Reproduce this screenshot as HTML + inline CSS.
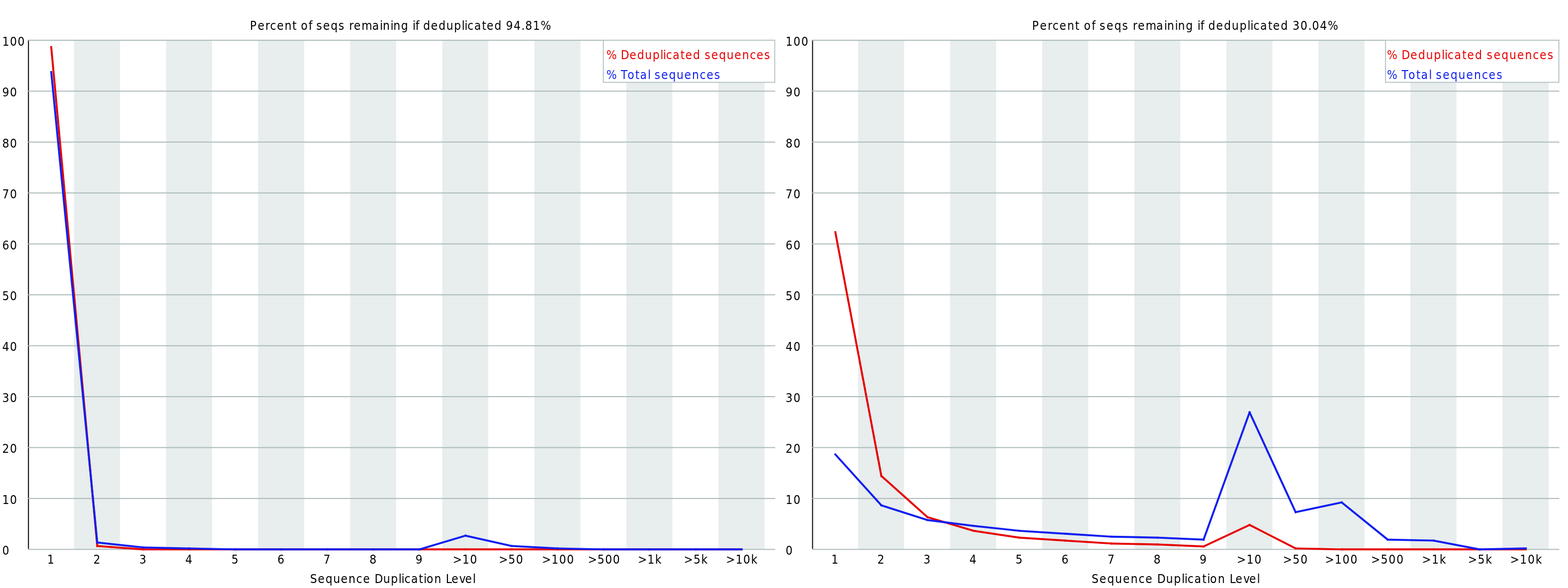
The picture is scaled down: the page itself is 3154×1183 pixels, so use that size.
<!DOCTYPE html>
<html><head><meta charset="utf-8"><title>Sequence Duplication Levels</title>
<style>
html,body{margin:0;padding:0;background:#fff;}
body{width:3154px;height:1183px;overflow:hidden;}
svg{display:block;}
.t{font-family:'DejaVu Sans Condensed', 'DejaVu Sans', 'Liberation Sans', sans-serif;font-size:12.4px;fill:#000;}
</style></head><body>
<svg width="3154" height="1183" viewBox="0 0 3154 1183">
<rect width="3154" height="1183" fill="#fff"/>
<g transform="translate(1.1,1.15) scale(1.97)">
<rect x="75" y="40" width="47" height="520" fill="#e8eded"/>
<rect x="169" y="40" width="47" height="520" fill="#e8eded"/>
<rect x="263" y="40" width="47" height="520" fill="#e8eded"/>
<rect x="357" y="40" width="47" height="520" fill="#e8eded"/>
<rect x="451" y="40" width="47" height="520" fill="#e8eded"/>
<rect x="545" y="40" width="47" height="520" fill="#e8eded"/>
<rect x="639" y="40" width="47" height="520" fill="#e8eded"/>
<rect x="733" y="40" width="47" height="520" fill="#e8eded"/>
<rect x="28" y="40" width="1" height="520" fill="#000"/>
<rect x="28" y="560" width="763" height="1" fill="#aab9b9"/>
<rect x="28" y="508" width="763" height="1" fill="#aab9b9"/>
<rect x="28" y="456" width="763" height="1" fill="#aab9b9"/>
<rect x="28" y="404" width="763" height="1" fill="#aab9b9"/>
<rect x="28" y="352" width="763" height="1" fill="#aab9b9"/>
<rect x="28" y="300" width="763" height="1" fill="#aab9b9"/>
<rect x="28" y="248" width="763" height="1" fill="#aab9b9"/>
<rect x="28" y="196" width="763" height="1" fill="#aab9b9"/>
<rect x="28" y="144" width="763" height="1" fill="#aab9b9"/>
<rect x="28" y="92" width="763" height="1" fill="#aab9b9"/>
<rect x="28" y="40" width="763" height="1" fill="#aab9b9"/>
<text x="1.70" y="566" class="t">0</text>
<text x="1.70 9.56" y="514" class="t">10</text>
<text x="1.70 9.56" y="462" class="t">20</text>
<text x="1.70 9.56" y="410" class="t">30</text>
<text x="1.70 9.56" y="358" class="t">40</text>
<text x="1.70 9.56" y="306" class="t">50</text>
<text x="1.70 9.56" y="254" class="t">60</text>
<text x="1.70 9.56" y="202" class="t">70</text>
<text x="1.70 9.56" y="150" class="t">80</text>
<text x="1.70 9.56" y="98" class="t">90</text>
<text x="1.70 9.56 17.43" y="46" class="t">100</text>
<text x="254.62 262.48 270.34 275.26 282.14 290.00 297.87 302.78 306.72 314.58 318.51 322.44 329.32 337.19 345.05 351.93 355.87 360.78 368.64 379.46 387.32 390.27 398.13 401.08 408.95 416.81 420.74 423.69 427.62 431.56 439.42 447.28 455.15 463.01 470.88 473.83 476.77 483.66 491.52 496.43 504.30 512.16 516.10 523.96 531.82 535.75 543.62 551.48" y="30" class="t">Percent of seqs remaining if deduplicated 94.81%</text>
<text x="47.70" y="575" class="t">1</text>
<text x="94.70" y="575" class="t">2</text>
<text x="141.70" y="575" class="t">3</text>
<text x="188.70" y="575" class="t">4</text>
<text x="235.70" y="575" class="t">5</text>
<text x="282.70" y="575" class="t">6</text>
<text x="329.70" y="575" class="t">7</text>
<text x="376.70" y="575" class="t">8</text>
<text x="423.70" y="575" class="t">9</text>
<text x="461.70 471.53 479.39" y="575" class="t">&gt;10</text>
<text x="508.70 518.53 526.39" y="575" class="t">&gt;50</text>
<text x="552.70 562.53 570.39 578.26" y="575" class="t">&gt;100</text>
<text x="599.70 609.53 617.39 625.26" y="575" class="t">&gt;500</text>
<text x="650.70 660.53 668.39" y="575" class="t">&gt;1k</text>
<text x="697.70 707.53 715.39" y="575" class="t">&gt;5k</text>
<text x="740.70 750.53 758.39 766.26" y="575" class="t">&gt;10k</text>
<text x="316.02 323.88 331.75 339.61 347.47 355.34 363.20 370.08 377.95 381.88 390.73 398.59 406.45 409.40 412.35 419.23 427.10 432.01 434.96 442.82 450.69 454.62 460.52 468.38 474.28 482.14" y="595" class="t">Sequence Duplication Level</text>
<line x1="51.75" y1="47.5" x2="98.75" y2="557.0" stroke="#e60000" stroke-width="2" stroke-linecap="square"/>
<line x1="98.75" y1="557.0" x2="145.75" y2="560.5" stroke="#e60000" stroke-width="2" stroke-linecap="square"/>
<line x1="145.75" y1="560.5" x2="192.75" y2="560.5" stroke="#e60000" stroke-width="2" stroke-linecap="square"/>
<line x1="192.75" y1="560.5" x2="239.75" y2="560.5" stroke="#e60000" stroke-width="2" stroke-linecap="square"/>
<line x1="239.75" y1="560.5" x2="286.75" y2="560.5" stroke="#e60000" stroke-width="2" stroke-linecap="square"/>
<line x1="286.75" y1="560.5" x2="333.75" y2="560.5" stroke="#e60000" stroke-width="2" stroke-linecap="square"/>
<line x1="333.75" y1="560.5" x2="380.75" y2="560.5" stroke="#e60000" stroke-width="2" stroke-linecap="square"/>
<line x1="380.75" y1="560.5" x2="427.75" y2="560.5" stroke="#e60000" stroke-width="2" stroke-linecap="square"/>
<line x1="427.75" y1="560.5" x2="474.75" y2="560.5" stroke="#e60000" stroke-width="2" stroke-linecap="square"/>
<line x1="474.75" y1="560.5" x2="521.75" y2="560.5" stroke="#e60000" stroke-width="2" stroke-linecap="square"/>
<line x1="521.75" y1="560.5" x2="568.75" y2="560.5" stroke="#e60000" stroke-width="2" stroke-linecap="square"/>
<line x1="568.75" y1="560.5" x2="615.75" y2="560.5" stroke="#e60000" stroke-width="2" stroke-linecap="square"/>
<line x1="615.75" y1="560.5" x2="662.75" y2="560.5" stroke="#e60000" stroke-width="2" stroke-linecap="square"/>
<line x1="662.75" y1="560.5" x2="709.75" y2="560.5" stroke="#e60000" stroke-width="2" stroke-linecap="square"/>
<line x1="709.75" y1="560.5" x2="756.75" y2="560.5" stroke="#e60000" stroke-width="2" stroke-linecap="square"/>
<line x1="51.75" y1="73.0" x2="98.75" y2="553.5" stroke="#0f1ef0" stroke-width="2" stroke-linecap="square"/>
<line x1="98.75" y1="553.5" x2="145.75" y2="558.5" stroke="#0f1ef0" stroke-width="2" stroke-linecap="square"/>
<line x1="145.75" y1="558.5" x2="192.75" y2="559.5" stroke="#0f1ef0" stroke-width="2" stroke-linecap="square"/>
<line x1="192.75" y1="559.5" x2="239.75" y2="560.5" stroke="#0f1ef0" stroke-width="2" stroke-linecap="square"/>
<line x1="239.75" y1="560.5" x2="286.75" y2="560.5" stroke="#0f1ef0" stroke-width="2" stroke-linecap="square"/>
<line x1="286.75" y1="560.5" x2="333.75" y2="560.5" stroke="#0f1ef0" stroke-width="2" stroke-linecap="square"/>
<line x1="333.75" y1="560.5" x2="380.75" y2="560.5" stroke="#0f1ef0" stroke-width="2" stroke-linecap="square"/>
<line x1="380.75" y1="560.5" x2="427.75" y2="560.5" stroke="#0f1ef0" stroke-width="2" stroke-linecap="square"/>
<line x1="427.75" y1="560.5" x2="474.75" y2="546.5" stroke="#0f1ef0" stroke-width="2" stroke-linecap="square"/>
<line x1="474.75" y1="546.5" x2="521.75" y2="557.0" stroke="#0f1ef0" stroke-width="2" stroke-linecap="square"/>
<line x1="521.75" y1="557.0" x2="568.75" y2="559.5" stroke="#0f1ef0" stroke-width="2" stroke-linecap="square"/>
<line x1="568.75" y1="559.5" x2="615.75" y2="560.5" stroke="#0f1ef0" stroke-width="2" stroke-linecap="square"/>
<line x1="615.75" y1="560.5" x2="662.75" y2="560.5" stroke="#0f1ef0" stroke-width="2" stroke-linecap="square"/>
<line x1="662.75" y1="560.5" x2="709.75" y2="560.5" stroke="#0f1ef0" stroke-width="2" stroke-linecap="square"/>
<line x1="709.75" y1="560.5" x2="756.75" y2="560.5" stroke="#0f1ef0" stroke-width="2" stroke-linecap="square"/>
<rect x="615.5" y="40.5" width="175" height="43" fill="#fff" stroke="#b4c3c3" stroke-width="1"/>
<text x="618.60 629.41 633.35 642.19 650.06 657.92 665.78 673.65 676.60 679.55 686.43 694.29 699.21 707.07 714.93 718.87 725.75 733.61 741.48 749.34 757.20 765.07 771.95 779.81" y="60" class="t" style="fill:#e60000;color:#e60000">% Deduplicated sequences</text>
<text x="618.60 629.41 633.35 640.23 648.09 653.00 660.87 663.82 667.75 674.63 682.50 690.36 698.22 706.09 713.95 720.83 728.70" y="80" class="t" style="fill:#0f1ef0;color:#0f1ef0">% Total sequences</text>
</g>
<g transform="translate(1578.3,1.15) scale(1.97)">
<rect x="75" y="40" width="47" height="520" fill="#e8eded"/>
<rect x="169" y="40" width="47" height="520" fill="#e8eded"/>
<rect x="263" y="40" width="47" height="520" fill="#e8eded"/>
<rect x="357" y="40" width="47" height="520" fill="#e8eded"/>
<rect x="451" y="40" width="47" height="520" fill="#e8eded"/>
<rect x="545" y="40" width="47" height="520" fill="#e8eded"/>
<rect x="639" y="40" width="47" height="520" fill="#e8eded"/>
<rect x="733" y="40" width="47" height="520" fill="#e8eded"/>
<rect x="28" y="40" width="1" height="520" fill="#000"/>
<rect x="28" y="560" width="763" height="1" fill="#aab9b9"/>
<rect x="28" y="508" width="763" height="1" fill="#aab9b9"/>
<rect x="28" y="456" width="763" height="1" fill="#aab9b9"/>
<rect x="28" y="404" width="763" height="1" fill="#aab9b9"/>
<rect x="28" y="352" width="763" height="1" fill="#aab9b9"/>
<rect x="28" y="300" width="763" height="1" fill="#aab9b9"/>
<rect x="28" y="248" width="763" height="1" fill="#aab9b9"/>
<rect x="28" y="196" width="763" height="1" fill="#aab9b9"/>
<rect x="28" y="144" width="763" height="1" fill="#aab9b9"/>
<rect x="28" y="92" width="763" height="1" fill="#aab9b9"/>
<rect x="28" y="40" width="763" height="1" fill="#aab9b9"/>
<text x="1.00" y="566" class="t">0</text>
<text x="1.00 9.00" y="514" class="t">10</text>
<text x="1.00 9.00" y="462" class="t">20</text>
<text x="1.00 9.00" y="410" class="t">30</text>
<text x="1.00 9.00" y="358" class="t">40</text>
<text x="1.00 9.00" y="306" class="t">50</text>
<text x="1.00 9.00" y="254" class="t">60</text>
<text x="1.00 9.00" y="202" class="t">70</text>
<text x="1.00 9.00" y="150" class="t">80</text>
<text x="1.00 9.00" y="98" class="t">90</text>
<text x="1.00 9.00 17.00" y="46" class="t">100</text>
<text x="252.60 260.60 268.60 273.60 280.60 288.60 296.60 301.60 305.60 313.60 317.60 321.60 328.60 336.60 344.60 351.60 355.60 360.60 368.60 379.60 387.60 390.60 398.60 401.60 409.60 417.60 421.60 424.60 428.60 432.60 440.60 448.60 456.60 464.60 472.60 475.60 478.60 485.60 493.60 498.60 506.60 514.60 518.60 526.60 534.60 538.60 546.60 554.60" y="30" class="t">Percent of seqs remaining if deduplicated 30.04%</text>
<text x="47.70" y="575" class="t">1</text>
<text x="94.70" y="575" class="t">2</text>
<text x="141.70" y="575" class="t">3</text>
<text x="188.70" y="575" class="t">4</text>
<text x="235.70" y="575" class="t">5</text>
<text x="282.70" y="575" class="t">6</text>
<text x="329.70" y="575" class="t">7</text>
<text x="376.70" y="575" class="t">8</text>
<text x="423.70" y="575" class="t">9</text>
<text x="461.70 471.70 479.70" y="575" class="t">&gt;10</text>
<text x="508.70 518.70 526.70" y="575" class="t">&gt;50</text>
<text x="551.70 561.70 569.70 577.70" y="575" class="t">&gt;100</text>
<text x="598.70 608.70 616.70 624.70" y="575" class="t">&gt;500</text>
<text x="650.70 660.70 668.70" y="575" class="t">&gt;1k</text>
<text x="697.70 707.70 715.70" y="575" class="t">&gt;5k</text>
<text x="740.70 750.70 758.70 766.70" y="575" class="t">&gt;10k</text>
<text x="313.40 321.40 329.40 337.40 345.40 353.40 361.40 368.40 376.40 380.40 389.40 397.40 405.40 408.40 411.40 418.40 426.40 431.40 434.40 442.40 450.40 454.40 460.40 468.40 474.40 482.40" y="595" class="t">Sequence Duplication Level</text>
<line x1="51.75" y1="236.5" x2="98.75" y2="485.5" stroke="#e60000" stroke-width="2" stroke-linecap="square"/>
<line x1="98.75" y1="485.5" x2="145.75" y2="527.5" stroke="#e60000" stroke-width="2" stroke-linecap="square"/>
<line x1="145.75" y1="527.5" x2="192.75" y2="541.5" stroke="#e60000" stroke-width="2" stroke-linecap="square"/>
<line x1="192.75" y1="541.5" x2="239.75" y2="548.5" stroke="#e60000" stroke-width="2" stroke-linecap="square"/>
<line x1="239.75" y1="548.5" x2="286.75" y2="551.5" stroke="#e60000" stroke-width="2" stroke-linecap="square"/>
<line x1="286.75" y1="551.5" x2="333.75" y2="554.5" stroke="#e60000" stroke-width="2" stroke-linecap="square"/>
<line x1="333.75" y1="554.5" x2="380.75" y2="555.5" stroke="#e60000" stroke-width="2" stroke-linecap="square"/>
<line x1="380.75" y1="555.5" x2="427.75" y2="557.5" stroke="#e60000" stroke-width="2" stroke-linecap="square"/>
<line x1="427.75" y1="557.5" x2="474.75" y2="535.5" stroke="#e60000" stroke-width="2" stroke-linecap="square"/>
<line x1="474.75" y1="535.5" x2="521.75" y2="559.5" stroke="#e60000" stroke-width="2" stroke-linecap="square"/>
<line x1="521.75" y1="559.5" x2="568.75" y2="560.5" stroke="#e60000" stroke-width="2" stroke-linecap="square"/>
<line x1="568.75" y1="560.5" x2="615.75" y2="560.5" stroke="#e60000" stroke-width="2" stroke-linecap="square"/>
<line x1="615.75" y1="560.5" x2="662.75" y2="560.5" stroke="#e60000" stroke-width="2" stroke-linecap="square"/>
<line x1="662.75" y1="560.5" x2="709.75" y2="560.5" stroke="#e60000" stroke-width="2" stroke-linecap="square"/>
<line x1="709.75" y1="560.5" x2="756.75" y2="560.5" stroke="#e60000" stroke-width="2" stroke-linecap="square"/>
<line x1="51.75" y1="463.5" x2="98.75" y2="515.5" stroke="#0f1ef0" stroke-width="2" stroke-linecap="square"/>
<line x1="98.75" y1="515.5" x2="145.75" y2="530.5" stroke="#0f1ef0" stroke-width="2" stroke-linecap="square"/>
<line x1="145.75" y1="530.5" x2="192.75" y2="536.5" stroke="#0f1ef0" stroke-width="2" stroke-linecap="square"/>
<line x1="192.75" y1="536.5" x2="239.75" y2="541.5" stroke="#0f1ef0" stroke-width="2" stroke-linecap="square"/>
<line x1="239.75" y1="541.5" x2="286.75" y2="544.5" stroke="#0f1ef0" stroke-width="2" stroke-linecap="square"/>
<line x1="286.75" y1="544.5" x2="333.75" y2="547.5" stroke="#0f1ef0" stroke-width="2" stroke-linecap="square"/>
<line x1="333.75" y1="547.5" x2="380.75" y2="548.5" stroke="#0f1ef0" stroke-width="2" stroke-linecap="square"/>
<line x1="380.75" y1="548.5" x2="427.75" y2="550.5" stroke="#0f1ef0" stroke-width="2" stroke-linecap="square"/>
<line x1="427.75" y1="550.5" x2="474.75" y2="420.5" stroke="#0f1ef0" stroke-width="2" stroke-linecap="square"/>
<line x1="474.75" y1="420.5" x2="521.75" y2="522.5" stroke="#0f1ef0" stroke-width="2" stroke-linecap="square"/>
<line x1="521.75" y1="522.5" x2="568.75" y2="512.5" stroke="#0f1ef0" stroke-width="2" stroke-linecap="square"/>
<line x1="568.75" y1="512.5" x2="615.75" y2="550.5" stroke="#0f1ef0" stroke-width="2" stroke-linecap="square"/>
<line x1="615.75" y1="550.5" x2="662.75" y2="551.5" stroke="#0f1ef0" stroke-width="2" stroke-linecap="square"/>
<line x1="662.75" y1="551.5" x2="709.75" y2="560.5" stroke="#0f1ef0" stroke-width="2" stroke-linecap="square"/>
<line x1="709.75" y1="560.5" x2="756.75" y2="559.5" stroke="#0f1ef0" stroke-width="2" stroke-linecap="square"/>
<rect x="613.5" y="40.5" width="177" height="43" fill="#fff" stroke="#b4c3c3" stroke-width="1"/>
<text x="614.90 625.90 629.90 638.90 646.90 654.90 662.90 670.90 673.90 676.90 683.90 691.90 696.90 704.90 712.90 716.90 723.90 731.90 739.90 747.90 755.90 763.90 770.90 778.90" y="60" class="t" style="fill:#e60000;color:#e60000">% Deduplicated sequences</text>
<text x="614.90 625.90 629.90 636.90 644.90 649.90 657.90 660.90 664.90 671.90 679.90 687.90 695.90 703.90 711.90 718.90 726.90" y="80" class="t" style="fill:#0f1ef0;color:#0f1ef0">% Total sequences</text>
</g>
</svg>
</body></html>
